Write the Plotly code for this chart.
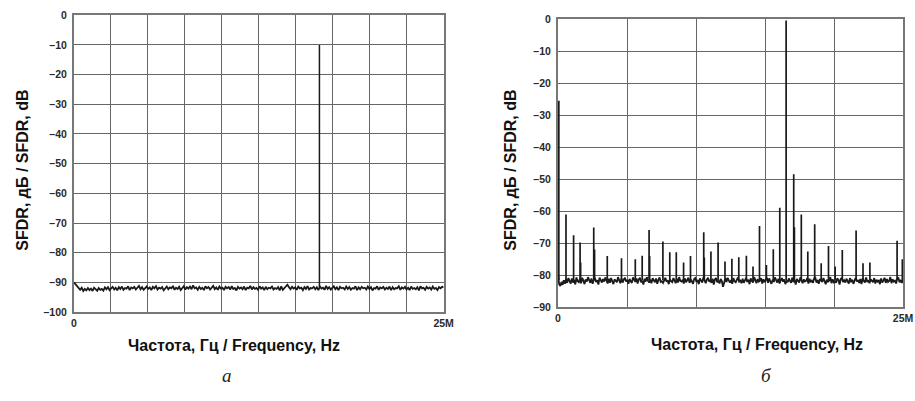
import numpy as np
import plotly.graph_objects as go

# ---------------- data ----------------
F_MAX = 25e6

# (a) noise floor, dB
noise_a = [
    -90.0, -90.6, -91.2, -91.9, -92.5, -91.8, -92.9, -92.2, -92.7, -91.9,
    -92.6, -92.1, -92.9, -91.8, -92.4, -92.8, -91.9, -92.5, -92.2, -92.8,
    -91.7, -92.3, -91.6, -92.6, -92.0, -91.5, -92.4, -91.8, -92.7, -91.6,
    -92.2, -91.4, -92.5, -91.9, -92.1, -91.3, -92.6, -91.7, -92.0, -91.5,
    -92.4, -91.8, -91.2, -92.3, -91.6, -92.5, -91.9, -91.4, -92.2, -91.7,
    -92.6, -91.5, -92.0, -91.3, -92.4, -91.8, -92.1, -91.6, -92.7, -91.9,
    -91.4, -92.3, -91.7, -92.0, -91.2, -92.5, -91.8, -92.2, -91.5, -92.6,
    -91.9, -91.3, -92.4, -91.6, -92.1, -91.4, -92.3, -91.0, -92.0, -91.7,
    -92.5, -91.5, -92.2, -91.8, -92.6, -91.3, -92.0, -91.6, -92.4, -91.9,
    -91.2, -92.3, -91.7, -92.5, -91.4, -92.1, -91.8, -92.6, -91.5, -92.0,
    -91.6, -92.4, -91.3, -92.2, -91.9, -92.7, -91.5, -92.1, -91.7, -92.3,
    -91.4, -92.6, -91.8, -92.0, -91.2, -92.4, -91.6, -92.2, -91.9, -92.5,
    -91.3, -92.1, -91.7, -92.6, -91.5, -92.3, -91.8, -92.0, -91.4, -92.4,
    -91.9, -92.2, -91.6, -92.7, -91.3, -92.5, -91.8, -91.1, -90.8, -91.6,
    -92.3, -91.5, -92.1, -91.7, -92.5, -91.4, -92.0, -91.8, -92.6, -91.6,
    -92.2, -91.3, -92.4, -91.9, -92.0, -91.5, -92.3, -91.7, -92.6, -91.4,
    -92.1, -91.8, -92.5, -91.2, -92.2, -91.6, -92.4, -91.9, -91.3, -92.3,
    -91.7, -92.6, -91.5, -92.0, -91.8, -92.4, -91.4, -92.2, -91.6, -92.5,
    -91.9, -92.1, -91.3, -92.6, -91.7, -92.3, -91.5, -92.0, -91.8, -92.4,
    -91.4, -92.2, -91.6, -92.7, -91.9, -92.1, -91.3, -92.5, -91.7, -92.0,
    -91.5, -92.4, -91.8, -92.2, -91.4, -92.6, -91.6, -92.3, -91.9, -92.0,
    -91.3, -92.5, -91.7, -92.1, -91.5, -92.4, -91.8, -92.6, -91.4, -92.2,
    -91.9, -92.3, -91.6, -92.7, -91.3, -92.0, -91.8, -92.5, -91.5, -92.1,
    -91.7, -92.4, -91.4, -92.2, -91.9, -92.6, -91.6, -92.0, -91.5, -91.6,
]
spur_freq_a = [16.6e6]
spur_db_a = [-10.0]
base_a = -91.6

# (б) noise floor, dB
noise_b = [
    -79.5, -82.8, -83.4, -82.1, -83.0, -81.6, -82.7, -81.2, -82.4, -80.9,
    -81.8, -82.6, -81.0, -82.3, -81.5, -82.9, -80.7, -81.9, -82.2, -81.1,
    -82.5, -80.8, -81.7, -82.8, -81.3, -82.0, -80.6, -81.8, -82.4, -81.0,
    -82.7, -81.4, -80.9, -82.1, -81.6, -82.9, -80.8, -81.5, -82.3, -81.2,
    -82.0, -80.7, -81.9, -82.6, -81.1, -82.4, -80.9, -81.6, -82.8, -81.3,
    -81.8, -82.2, -80.6, -81.7, -82.5, -81.0, -82.3, -81.4, -80.8, -82.0,
    -81.5, -82.7, -81.2, -81.9, -82.4, -80.7, -81.6, -82.1, -81.0, -82.6,
    -81.3, -80.8, -82.2, -81.7, -82.9, -81.1, -82.0, -80.6, -81.8, -82.3,
    -81.4, -82.5, -80.9, -81.6, -82.2, -81.0, -82.7, -81.5, -80.7, -82.1,
    -81.9, -82.4, -81.2, -80.8, -82.0, -81.6, -82.8, -81.3, -81.9, -82.2,
    -80.9, -81.7, -82.5, -81.1, -82.3, -80.6, -81.8, -82.0, -81.4, -82.6,
    -81.0, -82.2, -81.6, -80.8, -82.4, -81.3, -81.9, -82.7, -81.2, -80.9,
    -82.1, -81.5, -82.8, -81.0, -81.7, -82.3, -80.7, -81.9, -82.5, -81.4,
    -80.8, -82.0, -81.6, -82.4, -81.1, -82.9, -81.3, -80.9, -82.2, -81.7,
    -82.6, -81.2, -81.8, -83.6, -82.4, -81.0, -82.1, -80.8, -81.6, -82.3,
    -81.5, -82.7, -80.9, -81.9, -82.2, -81.3, -80.7, -82.0, -81.7, -82.5,
    -81.1, -82.4, -81.6, -80.8, -82.1, -81.4, -82.8, -81.0, -81.8, -82.3,
    -80.6, -81.9, -82.5, -81.2, -82.0, -81.7, -80.9, -82.6, -81.3, -82.2,
    -81.5, -80.8, -82.4, -81.0, -81.9, -82.7, -81.4, -82.1, -80.7, -81.8,
    -82.3, -81.1, -82.6, -81.6, -80.9, -82.0, -81.3, -82.8, -81.7, -82.2,
    -81.0, -81.8, -82.4, -80.8, -82.1, -81.5, -82.9, -81.2, -81.9, -82.3,
    -80.7, -81.6, -82.5, -81.3, -82.0, -81.8, -80.9, -82.6, -81.1, -82.2,
    -81.7, -82.4, -81.0, -80.8, -82.3, -81.5, -82.7, -81.2, -81.9, -82.1,
    -80.9, -81.6, -82.8, -81.4, -82.0, -81.7, -80.6, -82.5, -81.3, -82.2,
    -81.8, -82.4, -81.0, -81.5, -82.9, -81.2, -80.8, -82.1, -81.6, -82.3,
    -81.1, -81.9, -82.6, -80.9, -82.2, -81.4, -82.7, -81.7, -80.8, -82.0,
    -81.5, -82.4, -81.2, -82.8, -81.0, -81.8, -82.3, -80.7, -82.1, -81.6,
    -82.5, -81.3, -81.9, -82.2, -80.9, -82.6, -81.4, -82.0, -81.7, -82.8,
    -81.0, -82.3, -81.6, -80.8, -82.4, -81.2, -82.1, -81.8, -80.6, -82.5,
    -81.3, -82.0, -81.7, -82.6, -81.1, -80.9, -82.2, -81.5, -82.4, -81.2,
]
spur_freq_b = [
    0.06e6, 0.58e6, 1.13e6, 1.60e6, 1.64e6, 2.59e6, 2.65e6, 3.57e6, 4.60e6,
    5.60e6, 6.10e6, 6.60e6, 6.64e6, 7.60e6, 8.10e6, 8.57e6, 9.10e6, 9.60e6,
    10.56e6, 10.60e6, 11.08e6, 11.60e6, 12.10e6, 12.60e6, 13.10e6, 13.65e6,
    14.13e6, 14.60e6, 15.10e6, 15.60e6, 16.07e6, 16.53e6, 17.08e6, 17.13e6,
    17.63e6, 18.10e6, 18.60e6, 19.07e6, 19.60e6, 20.08e6, 20.60e6, 21.60e6,
    22.10e6, 22.60e6, 24.57e6, 24.95e6,
]
spur_db_b = [
    -25.5, -61.0, -67.5, -69.8, -76.0, -65.1, -72.0, -74.0, -74.7,
    -75.0, -73.9, -65.9, -74.0, -69.5, -72.8, -72.8, -76.0, -74.0,
    -66.6, -74.5, -72.6, -69.8, -75.7, -74.9, -74.4, -73.9,
    -77.3, -64.6, -76.8, -71.9, -58.9, -0.4, -48.5, -65.0,
    -61.0, -72.6, -64.1, -76.3, -70.9, -77.3, -72.1, -66.0,
    -76.3, -76.0, -69.2, -75.0,
]
base_b = -81.5

y_ticks_a = [0, -10, -20, -30, -40, -50, -60, -70, -80, -90, -100]
y_ticks_b = [0, -10, -20, -30, -40, -50, -60, -70, -80, -90]
x_grid_a = [i * 2.5e6 for i in range(11)]
x_grid_b = [i * 5e6 for i in range(6)]

# ---------------- figure ----------------
def lab(v):
    return "0" if v == 0 else "\u2013" + str(abs(v))

def spur_xy(freqs, dbs, base):
    xs, ys = [], []
    for f, d in zip(freqs, dbs):
        xs += [f, f, None]
        ys += [base, d, None]
    return xs, ys

fig = go.Figure()
LINE = "#1a1a1a"

fx_a = np.linspace(0, F_MAX, len(noise_a))
fig.add_trace(go.Scatter(x=fx_a, y=noise_a, mode="lines", xaxis="x", yaxis="y",
                         line=dict(color=LINE, width=1.8), showlegend=False))
sx, sy = spur_xy(spur_freq_a, spur_db_a, base_a)
fig.add_trace(go.Scatter(x=sx, y=sy, mode="lines", xaxis="x", yaxis="y",
                         line=dict(color=LINE, width=1.5), showlegend=False))

fx_b = np.linspace(0, F_MAX, len(noise_b))
fig.add_trace(go.Scatter(x=fx_b, y=noise_b, mode="lines", xaxis="x2", yaxis="y2",
                         line=dict(color=LINE, width=1.8), showlegend=False))
sx, sy = spur_xy(spur_freq_b, spur_db_b, base_b)
fig.add_trace(go.Scatter(x=sx, y=sy, mode="lines", xaxis="x2", yaxis="y2",
                         line=dict(color=LINE, width=1.7), showlegend=False))

W, H = 915, 401
tick_font = dict(family="Liberation Sans, Arial", size=10.5, color="#2a2a2a", weight="bold")
GRID = "#666666"
FRAME = "#777777"

def xaxis(dom, grid, anchor):
    return dict(domain=dom, range=[0, F_MAX], anchor=anchor,
                tickmode="array", tickvals=grid,
                ticktext=["0"] + [""] * (len(grid) - 2) + ["25M"],
                showgrid=True, gridcolor=GRID, gridwidth=1.4,
                showline=True, linecolor=FRAME, linewidth=2, mirror=True,
                ticks="", tickfont=tick_font, zeroline=False, fixedrange=True)

def yaxis(dom, ticks, anchor):
    return dict(domain=dom, range=[ticks[-1], 0], anchor=anchor,
                tickmode="array", tickvals=ticks, ticktext=[lab(v) for v in ticks],
                showgrid=True, gridcolor=GRID, gridwidth=1.4,
                showline=True, linecolor=FRAME, linewidth=2, mirror=True,
                ticks="", tickfont=tick_font, zeroline=False, fixedrange=True,
                ticklabelstandoff=3)

fig.update_layout(
    width=W, height=H, margin=dict(l=0, r=0, t=0, b=0),
    paper_bgcolor="white", plot_bgcolor="white",
    xaxis=xaxis([72 / W, 447 / W], x_grid_a, "y"),
    yaxis=yaxis([1 - 315.5 / H, 1 - 9.5 / H], y_ticks_a, "x"),
    xaxis2=xaxis([563 / W, 913 / W], x_grid_b, "y2"),
    yaxis2=yaxis([1 - 310.5 / H, 1 - 13.5 / H], y_ticks_b, "x2"),
)

title_font = dict(family="Liberation Sans, Arial", size=16, color="#111", weight="bold")
letter_font = dict(family="Liberation Serif, Times New Roman", size=19, color="#222", style="italic")
ann = [
    dict(text="SFDR, дБ / SFDR, dB", x=20 / W, y=1 - 169 / H, textangle=-90, font=title_font),
    dict(text="SFDR, дБ / SFDR, dB", x=515 / W, y=1 - 169 / H, textangle=-90, font=title_font),
    dict(text="Частота, Гц / Frequency, Hz", x=234 / W, y=1 - 350 / H, font=title_font),
    dict(text="Частота, Гц / Frequency, Hz", x=765 / W, y=1 - 349 / H, font=title_font),
    dict(text="а", x=227 / W, y=1 - 381 / H, font=letter_font),
    dict(text="б", x=775 / W, y=1 - 381 / H, font=letter_font),
]
for a in ann:
    a.update(xref="paper", yref="paper", showarrow=False, xanchor="center", yanchor="middle")
fig.update_layout(annotations=ann)

fig.write_html(
    "out.html",
    config={"displayModeBar": False},
    post_script="document.body.style.margin='0';document.body.style.padding='0';"
                "document.body.style.overflow='hidden';",
)
